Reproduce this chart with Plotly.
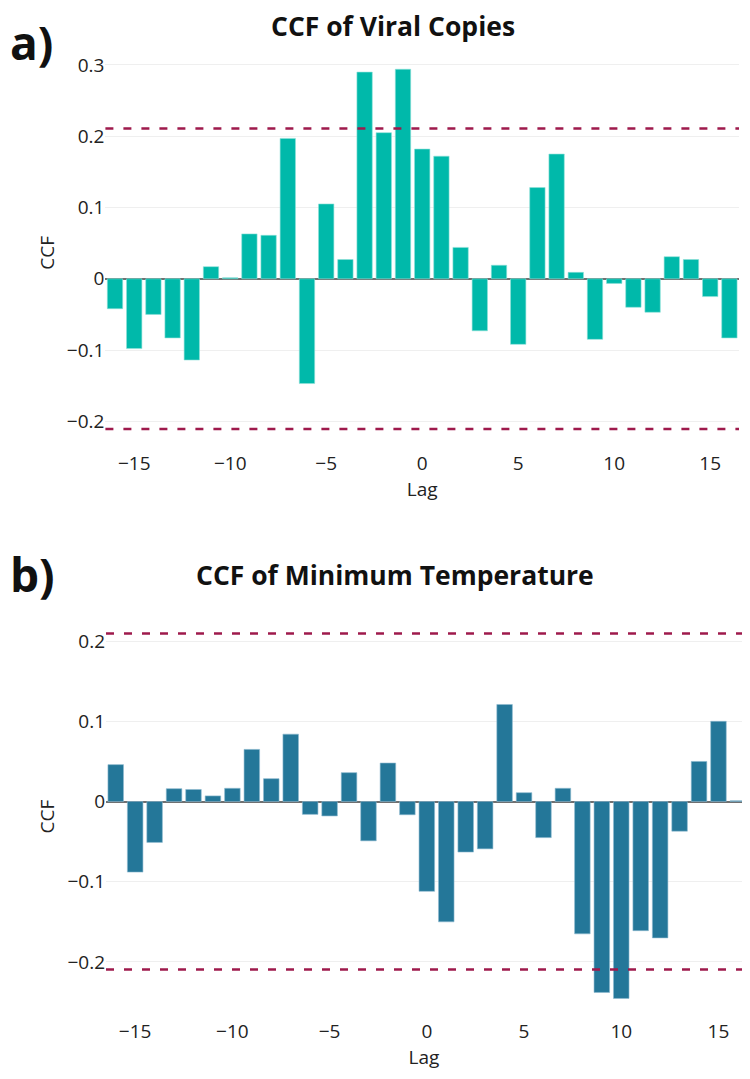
import plotly.graph_objects as go

lags = list(range(-16, 17))

ccf_viral = [-0.042, -0.098, -0.050, -0.083, -0.114, 0.017, 0.0015, 0.063, 0.061, 0.197,
             -0.147, 0.105, 0.027, 0.290, 0.205, 0.294, 0.182, 0.172, 0.044, -0.073,
             0.019, -0.092, 0.128, 0.175, 0.009, -0.085, -0.0065, -0.040, -0.047, 0.031,
             0.027, -0.025, -0.083]

ccf_temp = [0.046, -0.088, -0.051, 0.016, 0.015, 0.007, 0.0165, 0.065, 0.0285, 0.084,
            -0.016, -0.018, 0.036, -0.049, 0.048, -0.0165, -0.112, -0.150, -0.063, -0.059,
            0.121, 0.011, -0.045, 0.0165, -0.165, -0.238, -0.2455, -0.161, -0.170, -0.037,
            0.050, 0.100, 0.001]

ci_viral = 0.2107
ci_temp = 0.2095

titles = ["CCF of Viral Copies", "CCF of Minimum Temperature"]
panel_labels = ["a)", "b)"]
x_tick_vals = [-15, -10, -5, 0, 5, 10, 15]

# the page body has an 8px margin, so the figure is sized to fit the window without scrolling
W, H = 734, 1063
OFF = 8
FONT = "Open Sans"
TXT = "#222"
TICK_FONT = dict(family=FONT, size=19, color=TXT)
DASH_COLOR = "#9E1A4C"


def xpx(a, b):
    return [(a - OFF) / W, min(1.0, (b - OFF) / W)]


def ypx(top, bottom):
    return [1 - (bottom - OFF) / H, 1 - (top - OFF) / H]


fig = go.Figure()
fig.add_trace(go.Bar(x=lags, y=ccf_viral,
                     marker=dict(color="#00B9AA", line=dict(color="#8FE0D8", width=0.6)),
                     xaxis="x", yaxis="y", showlegend=False))
fig.add_trace(go.Bar(x=lags, y=ccf_temp,
                     marker=dict(color="#247799", line=dict(color="#8FBBD0", width=0.6)),
                     xaxis="x2", yaxis="y2", showlegend=False))

axis_common = dict(tickfont=TICK_FONT, showline=False, ticks="")
lag_title = dict(text="Lag", font=dict(family=FONT, size=19, color=TXT), standoff=2)

fig.update_layout(
    width=W, height=H,
    margin=dict(l=0, r=0, t=0, b=0),
    paper_bgcolor="white", plot_bgcolor="white",
    bargap=0.2,
    xaxis=dict(domain=xpx(105.4, 739), range=[-16.5, 16.5], anchor="y", showgrid=False,
               zeroline=False, tickvals=x_tick_vals, title=lag_title, **axis_common),
    yaxis=dict(domain=ypx(52.1, 446.3), range=[-0.24, 0.31], anchor="x",
               tickvals=[-0.2, -0.1, 0, 0.1, 0.2, 0.3],
               gridcolor="#EFEFEF", gridwidth=1, zeroline=True, zerolinecolor="#707070",
               zerolinewidth=1.5, **axis_common),
    xaxis2=dict(domain=xpx(106, 742), range=[-16.5, 16.21], anchor="y2", showgrid=False,
                zeroline=False, tickvals=x_tick_vals, title=lag_title, **axis_common),
    yaxis2=dict(domain=ypx(618.5, 1017.8), range=[-0.27, 0.225], anchor="x2",
                tickvals=[-0.2, -0.1, 0, 0.1, 0.2],
                gridcolor="#EFEFEF", gridwidth=1, zeroline=True, zerolinecolor="#707070",
                zerolinewidth=1.5, **axis_common),
)

for xr, yr, ci in [("x", "y", ci_viral), ("x2", "y2", ci_temp)]:
    for v in (ci, -ci):
        fig.add_shape(type="line", xref=f"{xr} domain", yref=yr, x0=0, x1=1, y0=v, y1=v,
                      line=dict(color=DASH_COLOR, width=2.5, dash="8px,10px"), layer="above")


def ann(text, x, y, size, **kw):
    fig.add_annotation(text=text, x=x / W, y=1 - y / H, xref="paper", yref="paper",
                       showarrow=False, font=dict(family=FONT, size=size, color="#111"), **kw)


# subplot titles
ann("<b>" + titles[0] + "</b>", 385, -8, 26.5, xanchor="center", yanchor="top")
ann("<b>" + titles[1] + "</b>", 387, 564, 26.5, xanchor="center", yanchor="middle")
# panel labels
ann("<b>" + panel_labels[0] + "</b>", 0, -5, 46, xanchor="left", yanchor="top")
ann("<b>" + panel_labels[1] + "</b>", 0, 563, 46, xanchor="left", yanchor="middle")
# y-axis titles
fig.add_annotation(text="CCF", x=39 / W, y=1 - 240 / H, xref="paper", yref="paper", showarrow=False,
                   textangle=-90, font=dict(family=FONT, size=19, color=TXT),
                   xanchor="center", yanchor="middle")
fig.add_annotation(text="CCF", x=39 / W, y=1 - 807 / H, xref="paper", yref="paper", showarrow=False,
                   textangle=-90, font=dict(family=FONT, size=19, color=TXT),
                   xanchor="center", yanchor="middle")

fig.write_html("out.html")
